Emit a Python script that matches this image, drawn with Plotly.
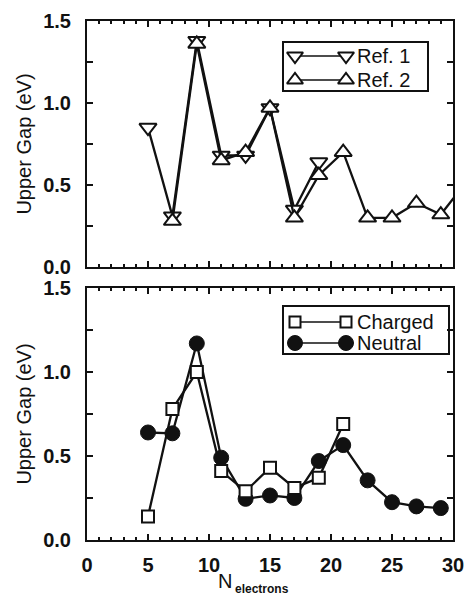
import plotly.graph_objects as go

# Upper-gap values (eV) versus number of electrons
n_ref1 = [5, 7, 9, 11, 13, 15, 17, 19]
gap_ref1 = [0.85, 0.31, 1.38, 0.68, 0.68, 0.97, 0.35, 0.64]

n_ref2 = [7, 9, 11, 13, 15, 17, 19, 21, 23, 25, 27, 29, 31]
gap_ref2 = [0.28, 1.36, 0.65, 0.70, 0.97, 0.30, 0.56, 0.70, 0.30, 0.30, 0.39, 0.32, 0.51]

n_charged = [5, 7, 9, 11, 13, 15, 17, 19, 21]
gap_charged = [0.14, 0.78, 1.00, 0.41, 0.29, 0.43, 0.31, 0.37, 0.69]

n_neutral = [5, 7, 9, 11, 13, 15, 17, 19, 21, 23, 25, 27, 29]
gap_neutral = [0.64, 0.635, 1.17, 0.49, 0.245, 0.265, 0.25, 0.47, 0.565, 0.355, 0.225, 0.20, 0.19]

x_ticks = [0, 5, 10, 15, 20, 25, 30]
y_ticks = [0.0, 0.5, 1.0, 1.5]
y_labels = ["0.0", "0.5", "1.0", "1.5"]

W, H = 467, 596
FONT = "Liberation Sans"
BLACK = "#111111"

def px_x(p):
    return p / W

def px_y(p):
    return 1 - p / H

x_dom = [px_x(87), px_x(453)]
top_dom = [px_y(267), px_y(21)]
bot_dom = [px_y(540), px_y(288)]

fig = go.Figure()

open_marker = dict(color="white", line=dict(color=BLACK, width=2))

# top panel
fig.add_trace(go.Scatter(
    x=n_ref1, y=gap_ref1, mode="lines+markers", xaxis="x", yaxis="y",
    line=dict(color=BLACK, width=2.3),
    marker=dict(symbol="triangle-down", size=15, **open_marker),
    showlegend=False))
fig.add_trace(go.Scatter(
    x=n_ref2, y=gap_ref2, mode="lines+markers", xaxis="x", yaxis="y",
    line=dict(color=BLACK, width=2.3),
    marker=dict(symbol="triangle-up", size=15, **open_marker),
    showlegend=False))

# bottom panel
fig.add_trace(go.Scatter(
    x=n_neutral, y=gap_neutral, mode="lines+markers", xaxis="x2", yaxis="y2",
    line=dict(color=BLACK, width=2.3),
    marker=dict(symbol="circle", size=15, color=BLACK, line=dict(color=BLACK, width=1)),
    showlegend=False))
fig.add_trace(go.Scatter(
    x=n_charged, y=gap_charged, mode="lines+markers", xaxis="x2", yaxis="y2",
    line=dict(color=BLACK, width=2.3),
    marker=dict(symbol="square", size=12, **open_marker),
    showlegend=False))

# hand-drawn legends on a page-wide helper axis (0..1 in both directions)
legend_rows = [
    (56, "triangle-down", 14, "Ref. 1", False),
    (80, "triangle-up", 14, "Ref. 2", False),
    (322, "square", 11, "Charged", False),
    (343, "circle", 15, "Neutral", True),
]
for yy, sym, sz, label, filled in legend_rows:
    mk = dict(symbol=sym, size=sz)
    if filled:
        mk.update(color=BLACK, line=dict(color=BLACK, width=1))
    else:
        mk.update(color="white", line=dict(color=BLACK, width=2))
    fig.add_trace(go.Scatter(
        x=[px_x(295), px_x(346)], y=[px_y(yy), px_y(yy)],
        mode="lines+markers", xaxis="x3", yaxis="y3",
        line=dict(color=BLACK, width=1.5), marker=mk,
        showlegend=False, hoverinfo="skip", cliponaxis=False))
    fig.add_annotation(
        x=px_x(355), y=px_y(yy), xref="paper", yref="paper",
        text=label, showarrow=False, xanchor="left", yanchor="middle",
        font=dict(family=FONT, size=20, color=BLACK))

shapes = [
    dict(type="rect", xref="paper", yref="paper",
         x0=px_x(283), x1=px_x(428), y0=px_y(91), y1=px_y(42),
         line=dict(color=BLACK, width=2), fillcolor="rgba(0,0,0,0)"),
    dict(type="rect", xref="paper", yref="paper",
         x0=px_x(283), x1=px_x(449), y0=px_y(354), y1=px_y(306),
         line=dict(color=BLACK, width=2), fillcolor="rgba(0,0,0,0)"),
]

tick_font = dict(family=FONT, size=20, color=BLACK, weight="bold")

def xaxis_cfg(show_labels, anchor):
    return dict(
        domain=x_dom, anchor=anchor, range=[0, 30], automargin=False,
        tickvals=x_ticks, ticktext=[str(v) for v in x_ticks],
        showticklabels=show_labels, tickfont=tick_font,
        ticks="inside", ticklen=6, tickwidth=1.5, tickcolor=BLACK,
        minor=dict(dtick=1, ticks="inside", ticklen=3, tickwidth=1.5, tickcolor=BLACK),
        showline=True, linecolor=BLACK, linewidth=2, mirror="ticks",
        showgrid=False, zeroline=False, ticklabelstandoff=6,
    )

def yaxis_cfg(dom, anchor):
    return dict(
        domain=dom, anchor=anchor, range=[0, 1.5], automargin=False,
        tickvals=y_ticks, ticktext=y_labels, tickfont=tick_font,
        ticks="inside", ticklen=6, tickwidth=1.5, tickcolor=BLACK,
        minor=dict(tickvals=[0.25, 0.75, 1.25], ticks="inside", ticklen=6,
                   tickwidth=1.5, tickcolor=BLACK),
        showline=True, linecolor=BLACK, linewidth=2, mirror="ticks",
        showgrid=False, zeroline=False, ticklabelstandoff=10,
        title=dict(text="Upper Gap (eV)", font=dict(family=FONT, size=20, color=BLACK),
                   standoff=6),
    )

fig.update_layout(
    width=W, height=H,
    margin=dict(l=0, r=0, t=0, b=0, pad=0, autoexpand=False),
    paper_bgcolor="white", plot_bgcolor="rgba(0,0,0,0)",
    xaxis=xaxis_cfg(False, "y"),
    yaxis=yaxis_cfg(top_dom, "x"),
    xaxis2=xaxis_cfg(True, "y2"),
    yaxis2=yaxis_cfg(bot_dom, "x2"),
    xaxis3=dict(domain=[0, 1], range=[0, 1], visible=False, anchor="y3",
                fixedrange=True, automargin=False),
    yaxis3=dict(domain=[0, 1], range=[0, 1], visible=False, anchor="x3",
                fixedrange=True, automargin=False),
    shapes=shapes,
    showlegend=False,
)

# x-axis title: large "N" with a small bold "electrons" subscript
fig.add_annotation(
    x=px_x(234), y=px_y(581), xref="paper", yref="paper",
    text="N", showarrow=False, xanchor="right", yanchor="middle",
    font=dict(family=FONT, size=20, color=BLACK))
fig.add_annotation(
    x=px_x(233), y=px_y(589), xref="paper", yref="paper",
    text="<b>electrons</b>", showarrow=False, xanchor="left", yanchor="middle",
    font=dict(family=FONT, size=12, color=BLACK))

fig.write_html("out.html")
